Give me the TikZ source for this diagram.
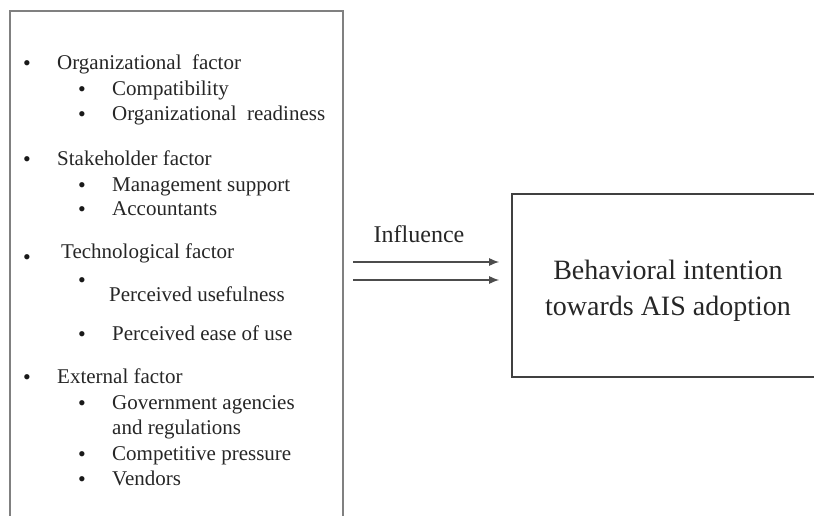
\documentclass[tikz,border=0pt]{standalone}
\usepackage{fontspec}
\setmainfont{Liberation Serif}
\usetikzlibrary{arrows.meta}

\begin{document}
\begin{tikzpicture}[x=1pt, y=-1pt,
        item/.style={anchor=mid west, inner sep=0pt, text=black!85, font=\fontsize{21}{25}\selectfont},
        dot/.style={anchor=mid, inner sep=0pt, text=black!90, font=\fontsize{22}{25}\selectfont},
        flow/.style={-{Latex[length=10pt,width=8pt]}, line width=1.4pt, draw=black!70}]
        \clip (0,0) rectangle (814,516);
        % boxes
        \node[draw=black!50, line width=1.8pt, minimum width=333pt, minimum height=530pt, inner sep=0pt] (factors) at (176.5,276) {};
        \node[draw=black!75, line width=1.6pt, minimum width=310pt, minimum height=183pt, inner sep=0pt] (intention) at (667,285.5) {};
        \node[align=center, text=black!85, font=\fontsize{28}{36}\selectfont] (intenttext) at (668,291) {Behavioral intention\\towards AIS adoption};
        % organizational
        \node[dot] (b1) at (27,68) {\textbullet};
        \node[item] (org) at (57,67) {Organizational\ \ factor};
        \node[dot] (b11) at (82,94) {\textbullet};
        \node[item] (comp) at (112,93) {Compatibility};
        \node[dot] (b12) at (82,119) {\textbullet};
        \node[item] (ready) at (112,118) {Organizational\ \ readiness};
        % stakeholder
        \node[dot] (b2) at (27,164) {\textbullet};
        \node[item] (stake) at (57,163) {Stakeholder factor};
        \node[dot] (b21) at (82,190) {\textbullet};
        \node[item] (mgmt) at (112,189) {Management support};
        \node[dot] (b22) at (82,214) {\textbullet};
        \node[item] (acc) at (112,213) {Accountants};
        % technological
        \node[dot] (b3) at (27,262) {\textbullet};
        \node[item] (tech) at (61,256) {Technological factor};
        \node[dot] (b31) at (82,285) {\textbullet};
        \node[item] (useful) at (109,299) {Perceived usefulness};
        \node[dot] (b32) at (82,339) {\textbullet};
        \node[item] (ease) at (112,338) {Perceived ease of use};
        % external
        \node[dot] (b4) at (27,382) {\textbullet};
        \node[item] (ext) at (57,381) {External factor};
        \node[dot] (b41) at (82,408) {\textbullet};
        \node[item] (gov) at (112,407) {Government agencies};
        \node[item] (reg) at (112,432) {and regulations};
        \node[dot] (b42) at (82,459) {\textbullet};
        \node[item] (press) at (112,458) {Competitive pressure};
        \node[dot] (b43) at (82,484) {\textbullet};
        \node[item] (vend) at (112,483) {Vendors};
        % influence arrows
        \node[text=black!85, font=\fontsize{24}{28}\selectfont] (infl) at (419,234) {Influence};
        \coordinate (s1) at (353,262);
        \coordinate (s2) at (353,280);
        \draw[flow, shorten >=12pt] (s1) -- (intention.west |- s1);
        \draw[flow, shorten >=12pt] (s2) -- (intention.west |- s2);
    \end{tikzpicture}
\end{document}
